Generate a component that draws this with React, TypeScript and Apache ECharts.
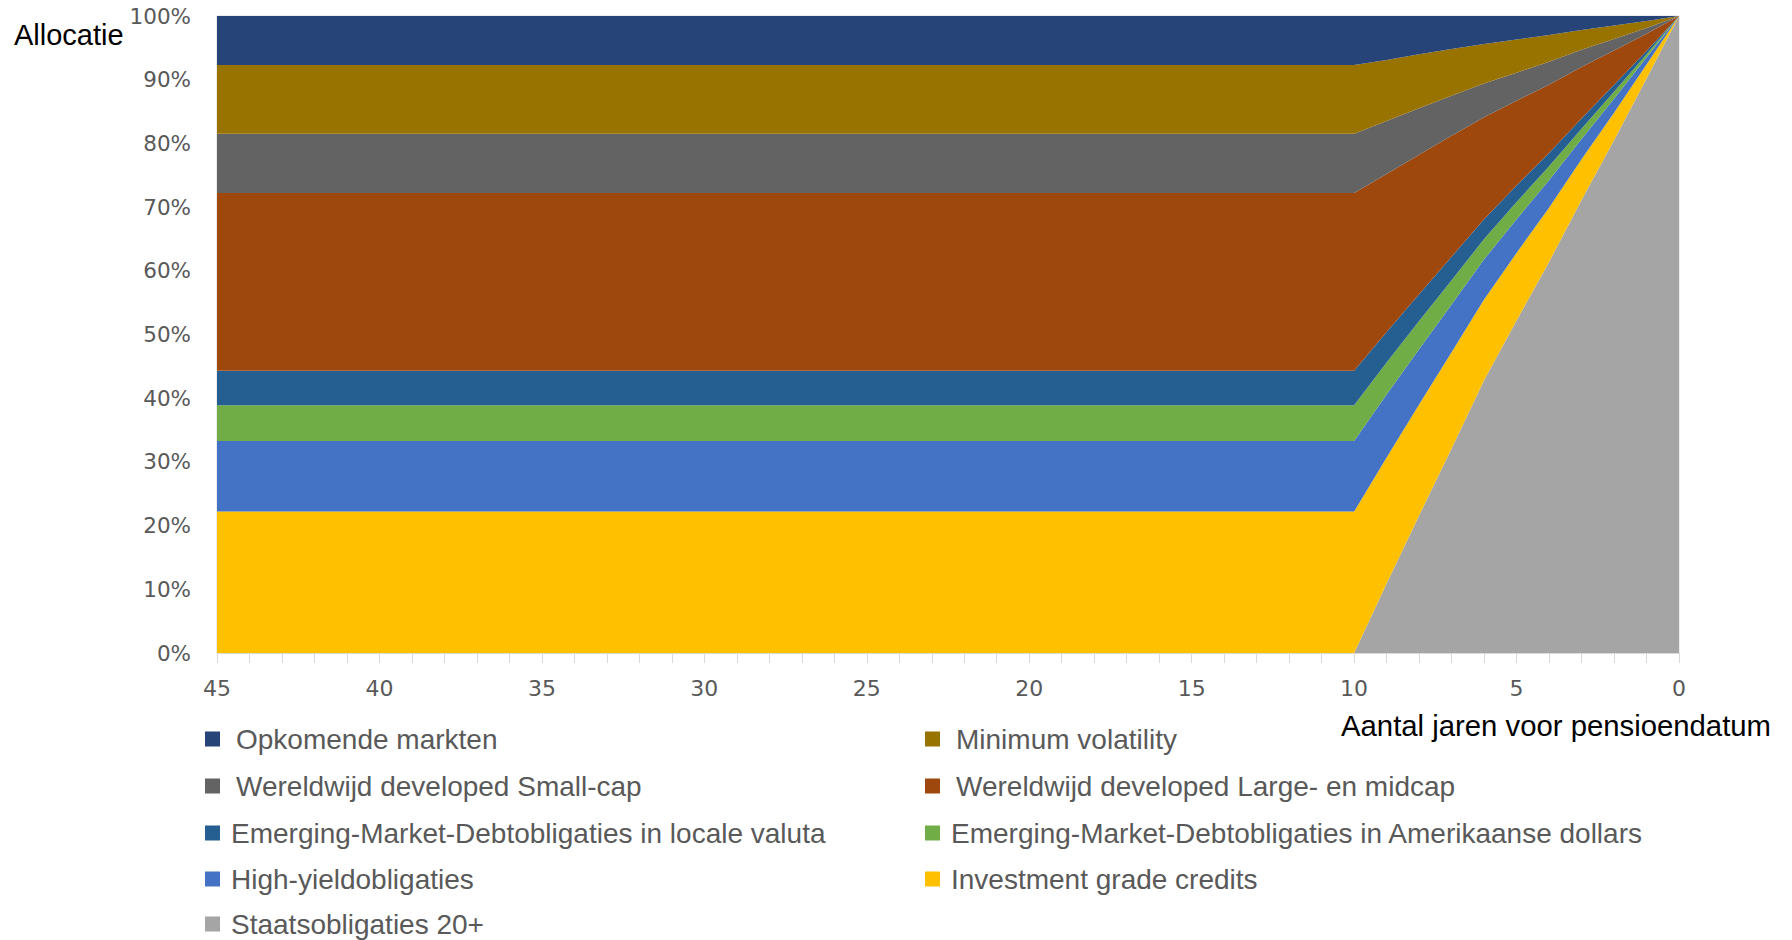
import React, { useEffect, useRef } from "react";
import * as echarts from "echarts";

// Years before retirement (x axis, read right-to-left from 45 down to 0)
const years = [45, 10, 9, 8, 7, 6, 5, 4, 3, 2, 1, 0];

// Allocation per asset class (%), bottom of the stack first
const staatsobligaties = [0, 0, 10.9, 21.6, 32.1, 42.8, 52.2, 61.4, 71.1, 80.5, 90.2, 100];
const investmentGrade = [22.2, 22.2, 19.8, 17.4, 15.1, 12.7, 10.6, 8.5, 6.4, 4.3, 2.2, 0];
const highYield = [11.1, 11.1, 9.9, 8.7, 7.5, 6.3, 5.3, 4.3, 3.2, 2.2, 1.1, 0];
const emdUsd = [5.6, 5.6, 5.0, 4.4, 3.8, 3.2, 2.7, 2.2, 1.6, 1.1, 0.5, 0];
const emdLocal = [5.4, 5.4, 4.8, 4.2, 3.7, 3.1, 2.6, 2.1, 1.6, 1.1, 0.5, 0];
const largeMidcap = [27.9, 27.9, 24.8, 21.9, 19.0, 16.0, 13.3, 10.7, 8.1, 5.4, 2.7, 0];
const smallCap = [9.3, 9.3, 8.3, 7.3, 6.3, 5.3, 4.4, 3.6, 2.7, 1.8, 0.9, 0];
const minVol = [10.8, 10.8, 9.6, 8.5, 7.3, 6.2, 5.2, 4.2, 3.1, 2.1, 1.1, 0];
const opkomende = [7.7, 7.7, 6.9, 6.0, 5.2, 4.4, 3.7, 3.0, 2.2, 1.5, 0.8, 0];

const seriesNames = [
  "Staatsobligaties 20+",
  "Investment grade credits",
  "High-yieldobligaties",
  "Emerging-Market-Debtobligaties in Amerikaanse dollars",
  "Emerging-Market-Debtobligaties in locale valuta",
  "Wereldwijd developed Large- en midcap",
  "Wereldwijd developed Small-cap",
  "Minimum volatility",
  "Opkomende markten",
];
const seriesValues = [
  staatsobligaties,
  investmentGrade,
  highYield,
  emdUsd,
  emdLocal,
  largeMidcap,
  smallCap,
  minVol,
  opkomende,
];
const seriesColors = [
  "#A5A5A5",
  "#FFC000",
  "#4472C4",
  "#70AD47",
  "#255E91",
  "#9E480E",
  "#636363",
  "#997300",
  "#264478",
];

const legendLeft = [
  "Opkomende markten",
  "Wereldwijd developed Small-cap",
  "Emerging-Market-Debtobligaties in locale valuta",
  "High-yieldobligaties",
  "Staatsobligaties 20+",
];
const legendRight = [
  "Minimum volatility",
  "Wereldwijd developed Large- en midcap",
  "Emerging-Market-Debtobligaties in Amerikaanse dollars",
  "Investment grade credits",
];
const indented = [
  "Opkomende markten",
  "Wereldwijd developed Small-cap",
  "Minimum volatility",
  "Wereldwijd developed Large- en midcap",
];

const legendFont = "'Liberation Sans', Arial, sans-serif";
const rowCenters = [739, 786, 833, 879, 924];

function makeLegend(name: string, left: number, centerY: number) {
  return {
    show: true,
    orient: "horizontal" as const,
    left,
    top: centerY - 14,
    padding: 0,
    itemWidth: 15,
    itemHeight: 15,
    icon: "rect",
    selectedMode: false,
    data: [
      {
        name,
        textStyle: { padding: [0, 0, 0, indented.includes(name) ? 11 : 6] },
      },
    ],
    textStyle: {
      fontFamily: legendFont,
      fontSize: 28,
      lineHeight: 28,
      color: "#595959",
    },
  };
}

export default function App() {
  const ref = useRef<HTMLDivElement>(null);
  useEffect(() => {
    if (!ref.current) return;
    const chart = echarts.init(ref.current, undefined, { renderer: "svg" });
    const legends = [
      ...legendLeft.map((n, i) => makeLegend(n, 205, rowCenters[i])),
      ...legendRight.map((n, i) => makeLegend(n, 925, rowCenters[i])),
    ];
    chart.setOption({
      animation: false,
      backgroundColor: "#ffffff",
      grid: {
        left: 217,
        right: 113,
        top: 16,
        bottom: 287,
        show: true,
        borderColor: "#d9d9d9",
        borderWidth: 1,
      },
      xAxis: {
        type: "value",
        min: 0,
        max: 45,
        interval: 5,
        inverse: true,
        axisLine: { show: true, lineStyle: { color: "#d9d9d9", width: 1 } },
        axisTick: { show: true, length: 10, lineStyle: { color: "#d9d9d9" } },
        minorTick: { show: true, splitNumber: 5, length: 10, lineStyle: { color: "#d9d9d9" } },
        splitLine: { show: false },
        axisLabel: {
          margin: 24,
          fontFamily: "'DejaVu Sans', Verdana, sans-serif",
          fontSize: 22,
          color: "#595959",
        },
      },
      yAxis: {
        type: "value",
        min: 0,
        max: 100,
        interval: 10,
        axisLine: { show: false },
        axisTick: { show: false },
        splitLine: { show: false },
        axisLabel: {
          margin: 26,
          formatter: "{value}%",
          fontFamily: "'DejaVu Sans', Verdana, sans-serif",
          fontSize: 21.5,
          color: "#595959",
        },
      },
      legend: legends,
      graphic: [
        {
          type: "text",
          left: 14,
          top: 20,
          style: {
            text: "Allocatie",
            fontFamily: "'Liberation Sans', Arial, sans-serif",
            fontSize: 29,
            fill: "#000000",
          },
        },
        {
          type: "text",
          left: 1341,
          top: 711,
          style: {
            text: "Aantal jaren voor pensioendatum",
            fontFamily: "'Liberation Sans', Arial, sans-serif",
            fontSize: 29.3,
            fill: "#000000",
          },
        },
      ],
      series: seriesNames.map((name, i) => ({
        name,
        type: "line",
        stack: "total",
        showSymbol: false,
        symbol: "none",
        color: seriesColors[i],
        lineStyle: { width: 0 },
        areaStyle: { color: seriesColors[i], opacity: 1 },
        encode: { x: 1, y: 0 },
        data: years.map((y, j) => [seriesValues[i][j], y]),
      })),
    });
    return () => chart.dispose();
  }, []);
  return (
    <div
      ref={ref}
      style={{ position: "fixed", left: 0, top: 0, width: 1792, height: 940 }}
    />
  );
}
